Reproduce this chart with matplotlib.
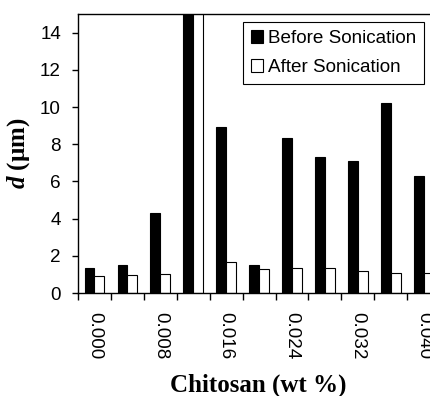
import matplotlib
matplotlib.use("Agg")
import matplotlib.pyplot as plt
import numpy as np

categories = ["0.000", "0.004", "0.008", "0.012", "0.016", "0.020",
              "0.024", "0.028", "0.032", "0.036", "0.040"]
before = [1.35, 1.5, 4.28, 16.0, 8.94, 1.5, 8.32, 7.31, 7.1, 10.23, 6.31]
after = [0.91, 0.95, 1.04, 16.0, 1.65, 1.31, 1.33, 1.33, 1.2, 1.09, 1.1]
shown_labels = ["0.000", "0.008", "0.016", "0.024", "0.032", "0.040"]

plt.rcParams['mathtext.fontset'] = 'custom'
plt.rcParams['mathtext.rm'] = 'Liberation Serif:bold'
plt.rcParams['mathtext.it'] = 'Liberation Serif:bold:italic'
plt.rcParams['mathtext.bf'] = 'Liberation Serif:bold'

fig = plt.figure(figsize=(4.30, 3.96), dpi=100)
ax = fig.add_axes([78/430, 1-293/396, 362.2/430, 279/396])

x = np.arange(len(categories))
w = 0.3
ax.bar(x - w/2, before, width=w, color='black', edgecolor='black',
       linewidth=0.8, label='Before Sonication')
ax.bar(x + w/2, after, width=w, color='white', edgecolor='black',
       linewidth=0.8, label='After Sonication')

ax.set_xlim(-0.5, len(categories) - 0.5)
ax.set_ylim(0, 15)
ax.set_yticks(np.arange(0, 15, 2))

ax.set_xticks(np.arange(len(categories) + 1) - 0.5)
ax.set_xticklabels([])
label_pos = [categories.index(c) for c in shown_labels]
ax.set_xticks(label_pos, minor=True)
ax.set_xticklabels(shown_labels, minor=True, rotation=-90,
                   fontfamily='Liberation Sans', fontsize=13.6)
ax.tick_params(axis='x', which='major', direction='out', length=5, width=1)
ax.tick_params(axis='x', which='minor', length=0, pad=13.5)
ax.tick_params(axis='y', direction='out', length=4.3, width=1, pad=8,
               labelsize=13.6)
for t in ax.get_yticklabels():
    t.set_fontfamily('Liberation Sans')

for s in ax.spines.values():
    s.set_linewidth(1.0)

fig.text(19/430, 1-153.5/396, r'$d$ (μm)', fontfamily='Liberation Serif',
         fontweight='bold', fontsize=18, rotation=90,
         ha='center', va='center')

fig.text(258/430, 1-391.5/396, 'Chitosan (wt %)', fontfamily='Liberation Serif',
         fontweight='bold', fontsize=18, ha='center', va='baseline')

leg = ax.legend(loc='upper left', bbox_to_anchor=(242.7/430, 1-22.3/396),
                bbox_transform=fig.transFigure, frameon=True, fancybox=False,
                edgecolor='black', framealpha=1,
                prop={'family': 'Liberation Sans', 'size': 13.6},
                handlelength=0.68, handleheight=0.68, handletextpad=0.22,
                borderpad=0.42, labelspacing=0.6, borderaxespad=0)
leg.get_frame().set_linewidth(0.8)

fig.savefig('out.png', dpi=100)
